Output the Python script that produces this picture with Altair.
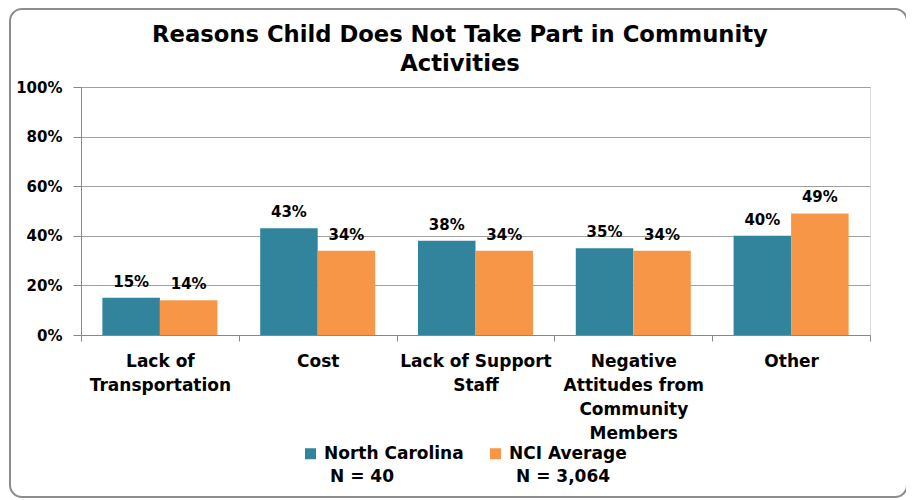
import altair as alt
import pandas as pd

title_lines = ["Reasons Child Does Not Take Part in Community", "Activities"]
categories = ["Lack of\nTransportation", "Cost", "Lack of Support\nStaff",
              "Negative\nAttitudes from\nCommunity\nMembers", "Other"]
series = ["North Carolina", "NCI Average"]
series_n = ["N = 40", "N = 3,064"]
nc_values = [0.15, 0.43, 0.38, 0.35, 0.40]
nci_values = [0.14, 0.34, 0.34, 0.34, 0.49]
colors = ["#31849b", "#f79646"]

rows = []
for i, c in enumerate(categories):
    rows.append({"cat": c, "series": series[0], "value": nc_values[i]})
    rows.append({"cat": c, "series": series[1], "value": nci_values[i]})
df = pd.DataFrame(rows)

FONT = "DejaVu Sans"
W, H = 789, 248

base = alt.Chart(df).encode(
    x=alt.X("cat:N", sort=categories, title=None,
            scale=alt.Scale(paddingInner=0, paddingOuter=0),
            axis=alt.Axis(labelExpr="split(datum.label, '\\n')", labelAngle=0,
                          labelFont=FONT, labelFontSize=17, labelFontWeight="bold",
                          labelColor="#000000", labelLineHeight=24, labelPadding=12,
                          labelBaseline="top",
                          tickBand="extent", tickSize=6, tickColor="#888888",
                          domainColor="#888888", grid=False)),
    xOffset=alt.XOffset("series:N", sort=series,
                        scale=alt.Scale(paddingInner=0, paddingOuter=0.372)),
)

bars = base.mark_bar().encode(
    y=alt.Y("value:Q", title=None,
            scale=alt.Scale(domain=[0, 1]),
            axis=alt.Axis(values=[0, 0.2, 0.4, 0.6, 0.8, 1.0], format=".0%",
                          labelFont=FONT, labelFontSize=15, labelFontWeight="bold",
                          labelColor="#000000", labelPadding=11,
                          tickSize=8, tickColor="#888888", domainColor="#888888",
                          gridColor="#a0a0a0", gridWidth=1)),
    color=alt.Color("series:N", sort=series,
                    scale=alt.Scale(domain=series, range=colors),
                    legend=alt.Legend(title=None, orient="none", direction="horizontal",
                                      legendX=221, legendY=358,
                                      symbolType="square", symbolSize=121,
                                      symbolStrokeWidth=0,
                                      labelFont=FONT, labelFontSize=17,
                                      labelFontWeight="bold", labelColor="#000000",
                                      labelBaseline="middle",
                                      labelOffset=5, columnPadding=23)),
)

labels = base.mark_text(dy=-8, baseline="bottom", font=FONT, fontSize=15,
                        fontWeight="bold", color="#000000").encode(
    y=alt.Y("value:Q"),
    text=alt.Text("value:Q", format=".0%"),
)

one = pd.DataFrame({"a": [0]})

n_texts = [
    alt.Chart(one).mark_text(font=FONT, fontSize=17, fontWeight="bold", color="#000000",
                             align="left", baseline="middle", clip=False)
    .encode(x=alt.value(xp), y=alt.value(390), text=alt.value(t))
    for xp, t in zip([249, 435], series_n)
]

frame = alt.Chart(one).mark_rect(
    fill=None, stroke="#8c8c8c", strokeWidth=2, cornerRadius=12, clip=False
).encode(x=alt.value(-71), x2=alt.value(826), y=alt.value(-78), y2=alt.value(410))

title = alt.Chart(one).mark_text(
    font=FONT, fontSize=22.7, fontWeight="bold", color="#000000",
    align="center", baseline="alphabetic", lineHeight=29, clip=False
).encode(x=alt.value(379), y=alt.value(-45), text=alt.value(title_lines))

chart = alt.layer(frame, title, bars, labels, *n_texts).properties(
    width=W, height=H,
    padding={"left": 73, "top": 79, "right": 36, "bottom": 163},
    autosize=alt.AutoSizeParams(type="none"),
).configure_view(fill="#ebebeb", stroke=None).configure(
    style={"guide-label": {"lineHeight": 24}}
)

chart.save("out.html", embed_options={"renderer": "svg", "actions": False})
